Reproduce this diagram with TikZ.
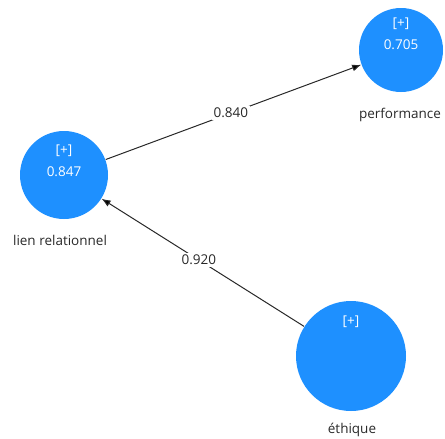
\documentclass[tikz,border=0pt]{standalone}
\usepackage{fontspec}
\setmainfont{Open Sans}
\usetikzlibrary{positioning, arrows.meta}
\definecolor{constructblue}{RGB}{30,144,255}
\definecolor{labelgray}{RGB}{40,40,40}

\begin{document}
\begin{tikzpicture}[-{Latex[length=9pt, width=7pt]}, x=1pt, y=-1pt, line width=1pt,
            construct/.style={circle, fill=constructblue, draw=none, inner sep=0pt},
            inside/.style={text=white, align=center, font=\fontsize{13.5}{22}\selectfont},
            cname/.style={text=labelgray, font=\fontsize{13.5}{15}\selectfont},
            weight/.style={fill=white, text=labelgray, inner sep=2pt, font=\fontsize{13.5}{15}\selectfont}]

        \useasboundingbox (0,0) rectangle (445,439);

        %% constructos
        \node[construct, minimum size=88pt] (lien) at (64,175) {};
        \node[construct, minimum size=84pt] (perf) at (401,50) {};
        \node[construct, minimum size=110pt] (ethique) at (351,356) {};

        \node[inside] (lienval) at (64,161) {[+]\\0.847};
        \node[inside] (perfval) at (401,34) {[+]\\0.705};
        \node[inside] (ethiqueval) at (351,322) {[+]};

        \node[cname] (lienname) at (60,240) {lien relationnel};
        \node[cname] (perfname) at (400,115) {performance};
        \node[cname] (ethiquename) at (352,430) {éthique};

        %%--------------------------caminos-------------------
        \path[draw=labelgray] (lien) edge node[weight, pos=0.49] {0.840} (perf);
        \path[draw=labelgray] (ethique) edge node[weight, pos=0.52] {0.920} (lien);

    \end{tikzpicture}
\end{document}
